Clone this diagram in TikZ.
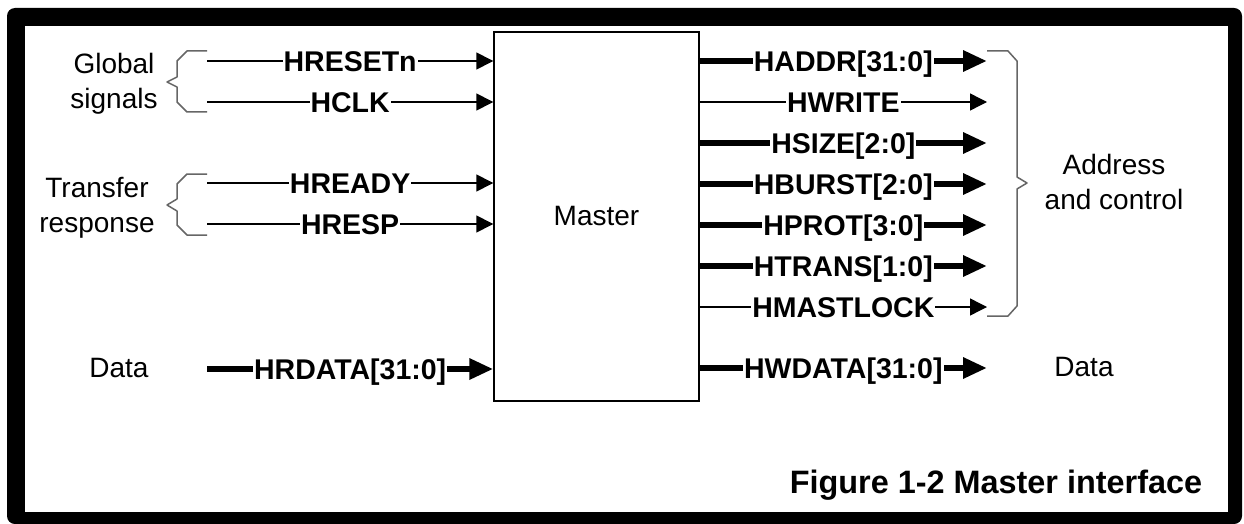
\documentclass[tikz,border=0pt]{standalone}
\usepackage{fontspec}
\setmainfont{Liberation Sans}
\usetikzlibrary{arrows.meta}
\begin{document}
\begin{tikzpicture}[x=1pt,y=-1pt,
  lbl/.style={font=\fontsize{28.5}{34}\selectfont\bfseries, fill=white, inner xsep=1pt, inner ysep=0pt, text height=20.5pt, text depth=0pt},
  txt/.style={font=\fontsize{28}{35}\selectfont, align=center, inner sep=0pt},
  thinsig/.style={line width=1.4pt, -{Triangle[length=17pt,width=17pt]}},
  bussig/.style={line width=6.5pt, -{Triangle[length=24pt,width=20pt]}},
  bracestyle/.style={draw=black!60, line width=1.5pt, line join=round},
  blockstyle/.style={draw, line width=1.4pt, minimum width=205pt, minimum height=369pt, inner sep=0pt, font=\fontsize{28}{34}\selectfont},
]
\useasboundingbox (0,0) rectangle (1244,524);
\fill[white] (0,0) rectangle (1244,524);
% frame
\fill[black, rounded corners=8pt] (7,8) rectangle (1242,524);
\fill[white] (25,26) rectangle (1228,512);

% master block
\node[blockstyle] (master) at (596.5,216.5) {Master};

% inputs
\coordinate (i1) at (207,61);
\coordinate (i2) at (207,102);
\coordinate (i3) at (207,183);
\coordinate (i4) at (207,224);
\coordinate (i5) at (207,369);
\draw[thinsig] (i1) -- node[lbl]{HRESETn} (i1 -| master.west);
\draw[thinsig] (i2) -- node[lbl]{HCLK} (i2 -| master.west);
\draw[thinsig] (i3) -- node[lbl]{HREADY} (i3 -| master.west);
\draw[thinsig] (i4) -- node[lbl]{HRESP} (i4 -| master.west);
\draw[bussig] (i5) -- node[lbl]{HRDATA[31:0]} (i5 -| master.west);

% outputs
\coordinate (o1) at (987,61);
\coordinate (o2) at (987,102);
\coordinate (o3) at (987,143);
\coordinate (o4) at (987,184);
\coordinate (o5) at (987,225);
\coordinate (o6) at (987,266);
\coordinate (o7) at (987,307);
\coordinate (o8) at (987,368);
\draw[bussig] (o1 -| master.east) -- node[lbl]{HADDR[31:0]} (o1);
\draw[thinsig] (o2 -| master.east) -- node[lbl]{HWRITE} (o2);
\draw[bussig] (o3 -| master.east) -- node[lbl]{HSIZE[2:0]} (o3);
\draw[bussig] (o4 -| master.east) -- node[lbl]{HBURST[2:0]} (o4);
\draw[bussig] (o5 -| master.east) -- node[lbl]{HPROT[3:0]} (o5);
\draw[bussig] (o6 -| master.east) -- node[lbl]{HTRANS[1:0]} (o6);
\draw[thinsig] (o7 -| master.east) -- node[lbl]{HMASTLOCK} (o7);
\draw[bussig] (o8 -| master.east) -- node[lbl]{HWDATA[31:0]} (o8);

% braces
\draw[bracestyle] (207,51) -- (187,51) -- (177,61) -- (177,77) -- (167,82) -- (177,87) -- (177,102) -- (187,112) -- (207,112);
\draw[bracestyle] (207,174) -- (187,174) -- (177,184) -- (177,199) -- (167,205) -- (177,211) -- (177,225) -- (187,235) -- (207,235);
\draw[bracestyle] (987,51) -- (1008,51) -- (1017,61) -- (1017,177) -- (1027,183) -- (1017,189) -- (1017,306) -- (1008,316) -- (987,316);

% group texts
\node[txt] (glob) at (114,83.8) {Global\\signals};
\node[txt] (xfer) at (97,207.3) {Transfer\\response};
\node[txt] (addr) at (1114,182.4) {Address\\and control};
\node[txt, anchor=base] (dl) at (119,377) {Data};
\node[txt, anchor=base] (dr) at (1084,376) {Data};
\node[font=\fontsize{32.4}{38}\selectfont\bfseries, anchor=base, inner sep=0pt] (cap) at (996,493) {Figure 1-2 Master interface};
\end{tikzpicture}
\end{document}
